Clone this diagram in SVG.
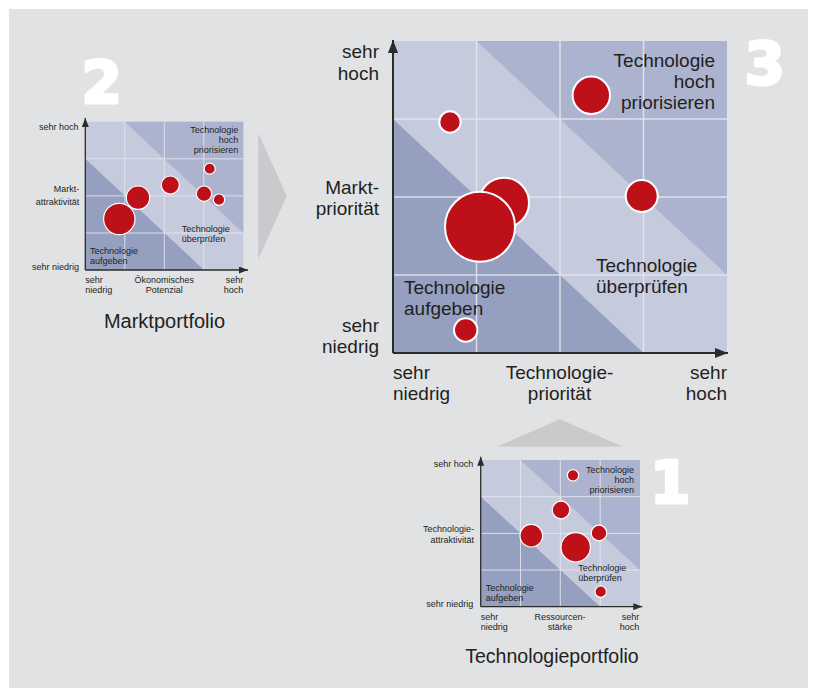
<svg xmlns="http://www.w3.org/2000/svg" width="814" height="688" viewBox="0 0 814 688">
<defs>
<style>
.bg{fill:#e1e2e4}
.lt{fill:#c5cadd}
.md{fill:#abb3cf}
.dk{fill:#95a0c1}
.grid{stroke:#e6e8f0;stroke-width:1.5;fill:none;opacity:0.85}
.grids{stroke:#e6e8f0;stroke-width:1;fill:none;opacity:0.85}
.ax{stroke:#2b2b2b;stroke-width:2;fill:none}
.axs{stroke:#2b2b2b;stroke-width:1.3;fill:none}
.bub{fill:#bd1019;stroke:#ffffff;stroke-width:2}
.bubs{fill:#bd1019;stroke:#ffffff;stroke-width:1.2}
.t{font-family:"Liberation Sans",Arial,sans-serif;fill:#231f20}
.tb{font-size:19px}
.ts{font-size:9px}
.num{font-family:"DejaVu Sans",sans-serif;font-weight:bold;font-size:58px;fill:#ffffff;stroke:#ffffff;stroke-width:3;stroke-linejoin:round}
.arr{fill:#c9cacc}
</style>
<marker id="ah" markerUnits="userSpaceOnUse" markerWidth="13" markerHeight="10" refX="13" refY="5" orient="auto"><path d="M0,0 L13,5 L0,10 z" fill="#2b2b2b"/></marker>
<marker id="ahs" markerUnits="userSpaceOnUse" markerWidth="9" markerHeight="7" refX="9" refY="3.5" orient="auto"><path d="M0,0 L9,3.5 L0,7 z" fill="#2b2b2b"/></marker>
</defs>
<rect class="bg" x="9" y="9" width="799" height="679"/>

<g id="connectors">
<polygon class="arr" points="258.3,133.3 286.7,196 258.3,259.3"/>
<polygon class="arr" points="496.7,446.7 560,419.3 623.3,446.7"/>
</g>

<g id="portfolio3">
<rect class="lt" x="393" y="41" width="334" height="312"/>
<polygon class="md" points="476.5,41 727,41 727,275"/>
<polygon class="dk" points="393,119 643.5,353 393,353"/>
<path class="grid" d="M476.5,41V353M560,41V353M643.5,41V353M393,119H727M393,197H727M393,275H727"/>
<line class="ax" x1="393" y1="353" x2="393" y2="40" marker-end="url(#ah)"/>
<line class="ax" x1="393" y1="353" x2="728" y2="353" marker-end="url(#ah)"/>
<circle class="bub" cx="591.3" cy="95.3" r="18.7"/>
<circle class="bub" cx="450" cy="122" r="10.7"/>
<circle class="bub" cx="504" cy="202.7" r="25"/>
<circle class="bub" cx="480" cy="226.7" r="35"/>
<circle class="bub" cx="641.7" cy="196" r="16"/>
<circle class="bub" cx="465.7" cy="330" r="11.7"/>
<g class="t tb" text-anchor="end">
<text x="379" y="58">sehr</text><text x="379" y="80">hoch</text>
<text x="379" y="194">Markt-</text><text x="379" y="215">priorität</text>
<text x="379" y="332">sehr</text><text x="379" y="353">niedrig</text>
<text x="715" y="67">Technologie</text><text x="715" y="88">hoch</text><text x="715" y="109">priorisieren</text>
<text x="727" y="379">sehr</text><text x="727" y="400">hoch</text>
</g>
<g class="t tb">
<text x="596" y="272">Technologie</text><text x="596" y="293">überprüfen</text>
<text x="404" y="294">Technologie</text><text x="404" y="315">aufgeben</text>
<text x="393" y="379">sehr</text><text x="393" y="400">niedrig</text>
<text x="559.5" y="379" text-anchor="middle">Technologie-</text><text x="559.5" y="400" text-anchor="middle">priorität</text>
</g>
<text class="num" x="744.5" y="84">3</text>
</g>

<g id="portfolio2">
<rect class="lt" x="85.3" y="121.7" width="158" height="148.3"/>
<polygon class="md" points="124.8,121.7 243.3,121.7 243.3,232.9"/>
<polygon class="dk" points="85.3,158.8 204,270 85.3,270"/>
<path class="grids" d="M124.8,121.7V270M164.3,121.7V270M203.8,121.7V270M85.3,158.8H243.3M85.3,195.9H243.3M85.3,233H243.3"/>
<line class="axs" x1="85.3" y1="270" x2="85.3" y2="118" marker-end="url(#ahs)"/>
<line class="axs" x1="85.3" y1="270" x2="248" y2="270" marker-end="url(#ahs)"/>
<circle class="bubs" cx="119.3" cy="219" r="15.7"/>
<circle class="bubs" cx="138" cy="197.7" r="11.7"/>
<circle class="bubs" cx="170.3" cy="185" r="9"/>
<circle class="bubs" cx="209.7" cy="168.7" r="5.5"/>
<circle class="bubs" cx="204" cy="193.7" r="7.7"/>
<circle class="bubs" cx="219" cy="199.7" r="5.7"/>
<g class="t ts" text-anchor="end">
<text x="78.5" y="129.5">sehr hoch</text>
<text x="79.3" y="192.3">Markt-</text><text x="79.3" y="205">attraktivität</text>
<text x="79" y="270">sehr niedrig</text>
<text x="238.3" y="133.3">Technologie</text><text x="238.3" y="143.3">hoch</text><text x="238.3" y="153.3">priorisieren</text>
<text x="243.3" y="283.3">sehr</text><text x="243.3" y="293.3">hoch</text>
</g>
<g class="t ts">
<text x="181.7" y="231.7">Technologie</text><text x="181.7" y="241.7">überprüfen</text>
<text x="90" y="254">Technologie</text><text x="90" y="264">aufgeben</text>
<text x="85.3" y="283.3">sehr</text><text x="85.3" y="293.3">niedrig</text>
<text x="164.3" y="283" text-anchor="middle">Ökonomisches</text><text x="164.3" y="293.3" text-anchor="middle">Potenzial</text>
</g>
<text class="t" x="164.5" y="328" font-size="20" text-anchor="middle">Marktportfolio</text>
<text class="num" x="81.5" y="102.5">2</text>
</g>

<g id="portfolio1">
<rect class="lt" x="480.7" y="460" width="159.3" height="146.7"/>
<polygon class="md" points="520.5,460 640,460 640,570"/>
<polygon class="dk" points="480.7,496.7 600.2,606.7 480.7,606.7"/>
<path class="grids" d="M520.5,460V606.7M560.3,460V606.7M600.2,460V606.7M480.7,496.7H640M480.7,533.4H640M480.7,570H640"/>
<line class="axs" x1="480.7" y1="606.7" x2="480.7" y2="456.7" marker-end="url(#ahs)"/>
<line class="axs" x1="480.7" y1="606.7" x2="642.3" y2="606.7" marker-end="url(#ahs)"/>
<circle class="bubs" cx="573" cy="475.3" r="5.7"/>
<circle class="bubs" cx="561" cy="510" r="8.8"/>
<circle class="bubs" cx="531.3" cy="535.7" r="11.3"/>
<circle class="bubs" cx="599" cy="533" r="7.8"/>
<circle class="bubs" cx="575.7" cy="547.3" r="14.7"/>
<circle class="bubs" cx="600.7" cy="591.7" r="5.7"/>
<g class="t ts" text-anchor="end">
<text x="473.3" y="467.3">sehr hoch</text>
<text x="474" y="531.7">Technologie-</text><text x="474" y="542.7">attraktivität</text>
<text x="473.3" y="607.3">sehr niedrig</text>
<text x="634" y="472.7">Technologie</text><text x="634" y="482.7">hoch</text><text x="634" y="492.7">priorisieren</text>
<text x="639.3" y="620">sehr</text><text x="639.3" y="630">hoch</text>
</g>
<g class="t ts">
<text x="578.3" y="571.3">Technologie</text><text x="578.3" y="581.3">überprüfen</text>
<text x="485.7" y="591">Technologie</text><text x="485.7" y="601">aufgeben</text>
<text x="480.7" y="620">sehr</text><text x="480.7" y="630">niedrig</text>
<text x="560" y="619.5" text-anchor="middle">Ressourcen-</text><text x="560" y="630" text-anchor="middle">stärke</text>
</g>
<text class="t" x="552" y="663.3" font-size="19.5" text-anchor="middle">Technologieportfolio</text>
<text class="num" x="650" y="502.5">1</text>
</g>
</svg>
